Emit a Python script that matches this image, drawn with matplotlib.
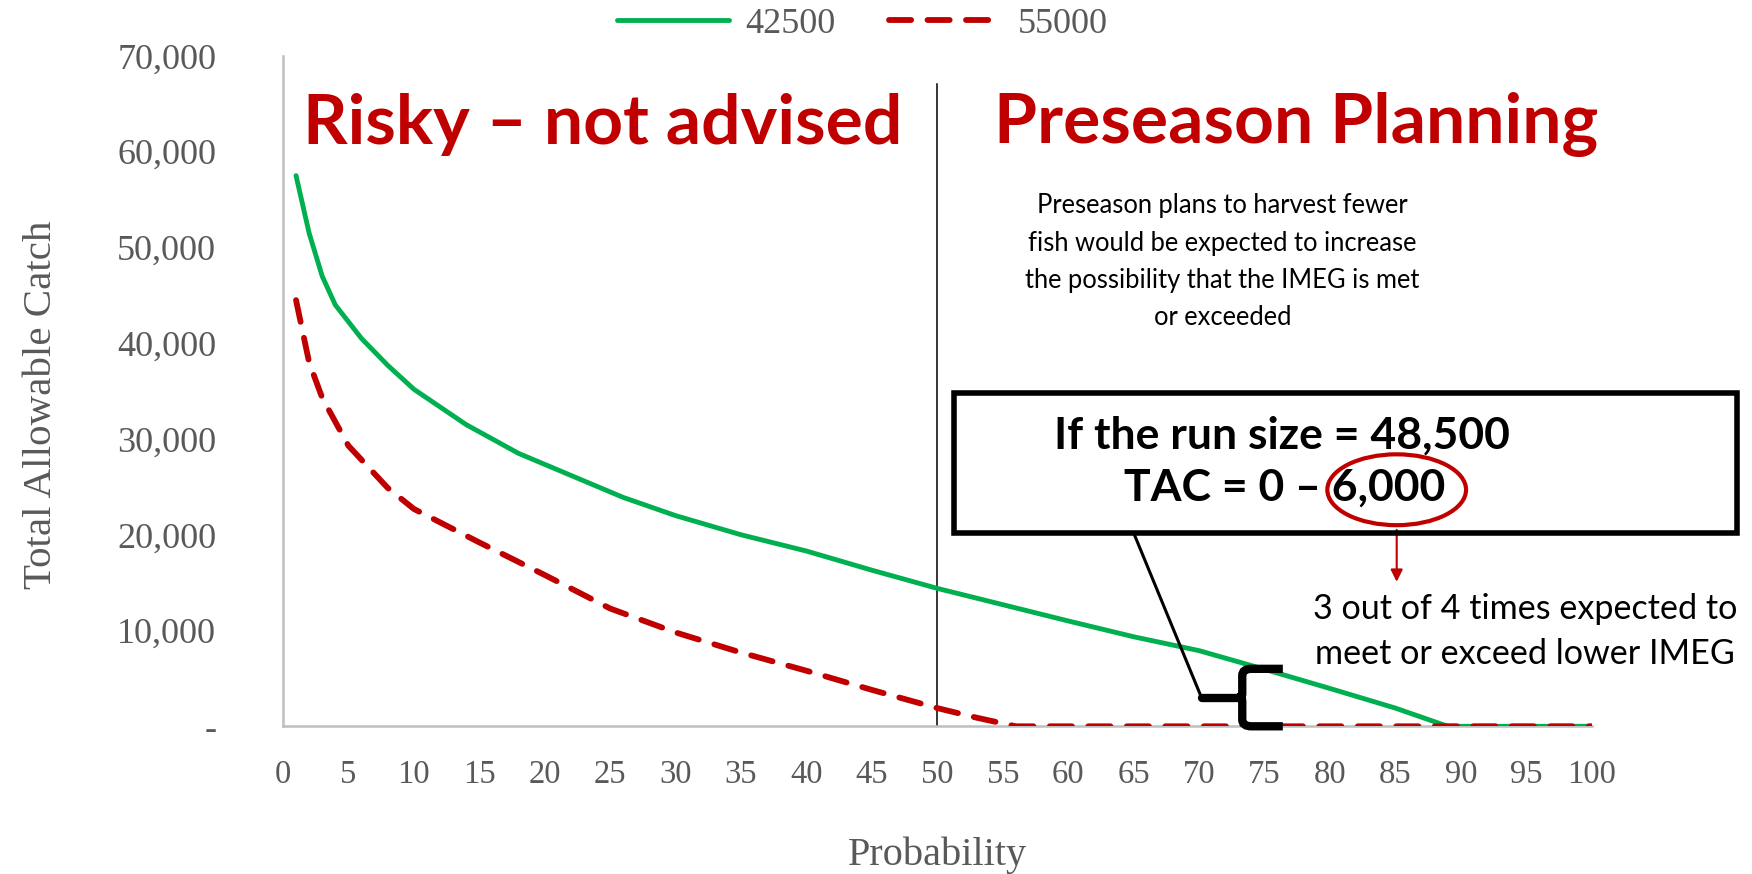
import matplotlib
matplotlib.use("Agg")
import matplotlib.pyplot as plt
from matplotlib.patches import Rectangle, Ellipse, PathPatch
from matplotlib.path import Path
from matplotlib.ticker import FuncFormatter, MultipleLocator

# Datos
prob_42500 = [1, 2, 3, 4, 6, 8, 10, 14, 18, 22, 26, 30, 35, 40, 45, 50, 55, 60, 65, 70, 75, 80, 85, 89, 95, 100]
tac_42500 = [57500, 51500, 47000, 44000, 40500, 37700, 35200, 31500, 28500, 26200, 23900, 22000, 20000,
             18300, 16300, 14400, 12700, 11000, 9350, 7900, 5950, 3950, 1900, 0, 0, 0]

prob_55000 = [1, 2, 3, 5, 8, 10, 15, 20, 25, 30, 35, 40, 45, 50, 53, 56, 60, 70, 80, 90, 100]
tac_55000 = [44500, 38000, 34300, 29300, 24900, 22700, 19200, 15800, 12300, 9800, 7700, 5800, 3800,
             1900, 900, 0, 0, 0, 0, 0, 0]

series_names = ["42500", "55000"]
run_size = 48500
tac_range = (0, 6000)
split_prob = 50
brace_prob = 73.3

GREEN = "#00B050"
RED = "#C00000"
GRAY = "#595959"
SANS = ["Lato", "DejaVu Sans"]
SERIF = ["Liberation Serif", "DejaVu Serif"]

fig = plt.figure(figsize=(17.52, 8.74), dpi=100)
ax = fig.add_axes([0.1615, 0.169, 0.747, 0.767])

l1, = ax.plot(prob_42500, tac_42500, color=GREEN, lw=3.5, zorder=3, solid_capstyle="round")
l2, = ax.plot(prob_55000, tac_55000, color=RED, lw=4.2, dashes=(3.8, 2.8), zorder=4,
              dash_capstyle="round")

ax.set_xlim(0, 100)
ax.set_ylim(0, 70000)
ax.xaxis.set_major_locator(MultipleLocator(5))
ax.yaxis.set_major_locator(MultipleLocator(10000))
ax.yaxis.set_major_formatter(FuncFormatter(lambda v, p: "-" if v == 0 else f"{v:,.0f}"))
ax.tick_params(length=0, colors=GRAY)
ax.tick_params(axis="y", pad=48, labelsize=26)
ax.tick_params(axis="x", pad=24, labelsize=23.5)
for lab in ax.get_xticklabels() + ax.get_yticklabels():
    lab.set_family(SERIF)
for s in ["top", "right"]:
    ax.spines[s].set_visible(False)
for s in ["left", "bottom"]:
    ax.spines[s].set_color("#BFBFBF")
    ax.spines[s].set_linewidth(1.8)

ax.set_ylabel("Total Allowable Catch", fontsize=29.5, color=GRAY, family=SERIF)
ax.set_xlabel("Probability", fontsize=29, color=GRAY, family=SERIF)
ax.yaxis.set_label_coords(-0.170, 0.479)
ax.xaxis.set_label_coords(0.5, -0.165)

# linea divisoria
ax.plot([split_prob, split_prob], [0, 67100], color="black", lw=1.1, zorder=2)

ax.text(24.4, 62800, "Risky – not advised", color=RED, fontsize=50, fontweight="bold",
        family=SANS, ha="center", va="center")
ax.text(77.4, 62800, "Preseason Planning", color=RED, fontsize=50, fontweight="bold",
        family=SANS, ha="center", va="center")
ax.text(71.8, 48500, "Preseason plans to harvest fewer\nfish would be expected to increase\n"
        "the possibility that the IMEG is met\nor exceeded", fontsize=18.4, family=SANS,
        ha="center", va="center", linespacing=1.62)

# caja
box = Rectangle((51.3, 20200), 59.8, 14600, fill=False, ec="black", lw=4, clip_on=False, zorder=5)
ax.add_patch(box)
ax.text(76.3, 30300, f"If the run size = {run_size:,}", fontsize=32, fontweight="bold",
        family=SANS, ha="center", va="center", zorder=6)
ax.text(76.5, 24900, f"TAC = {tac_range[0]} – {tac_range[1]:,}", fontsize=32, fontweight="bold",
        family=SANS, ha="center", va="center", zorder=6)
ax.add_patch(Ellipse((85.1, 24700), 10.6, 7400, fill=False, ec=RED, lw=3, zorder=7, clip_on=False))
ax.annotate("", xy=(85.1, 14800), xytext=(85.1, 20800),
            arrowprops=dict(arrowstyle="-|>", color=RED, lw=1.5, mutation_scale=18))
ax.text(94.9, 9900, "3 out of 4 times expected to\nmeet or exceed lower IMEG", fontsize=24.6,
        family=SANS, ha="center", va="center", linespacing=1.52, clip_on=False)

# conector y llave
ax.plot([65.0, 70.2], [20200, 2950], color="black", lw=2.2, zorder=6, solid_capstyle="round")
ax.plot([70.2, brace_prob], [2950, 2950], color="black", lw=6, zorder=6, solid_capstyle="round")
top, bot = tac_range[1], tac_range[0]
verts = [(76.4, top), (74.0, top), (brace_prob, top), (brace_prob, top - 700),
         (brace_prob, 3400), (brace_prob, 3000), (72.9, 3000),
         (brace_prob, 3000), (brace_prob, 2600),
         (brace_prob, bot + 700), (brace_prob, bot), (74.0, bot), (76.4, bot)]
codes = [Path.MOVETO, Path.LINETO, Path.CURVE3, Path.CURVE3,
         Path.LINETO, Path.CURVE3, Path.CURVE3,
         Path.CURVE3, Path.CURVE3,
         Path.LINETO, Path.CURVE3, Path.CURVE3, Path.LINETO]
ax.add_patch(PathPatch(Path(verts, codes), fill=False, ec="black", lw=6, zorder=6, clip_on=False))

fig.legend([l1, l2], series_names, loc="center", bbox_to_anchor=(0.492, 0.972), ncol=2,
           frameon=False, handlelength=3.1, columnspacing=1.5, handletextpad=0.45,
           prop={"family": SERIF, "size": 26}, labelcolor=GRAY)

fig.savefig("out.png", dpi=100)
